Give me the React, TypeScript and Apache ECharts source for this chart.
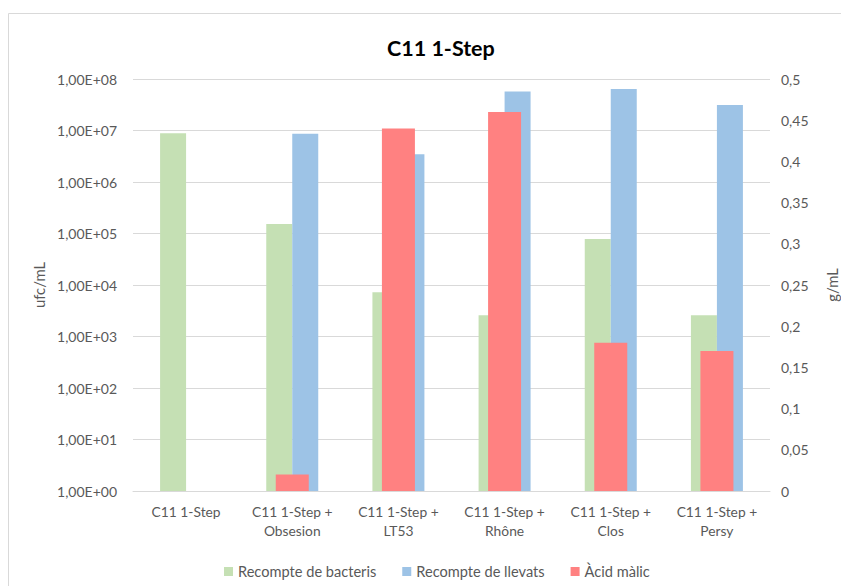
import React, { useEffect, useRef } from "react";
import * as echarts from "echarts";

const categories = [
  "C11 1-Step",
  "C11 1-Step +\nObsesion",
  "C11 1-Step +\nLT53",
  "C11 1-Step +\nRhône",
  "C11 1-Step +\nClos",
  "C11 1-Step +\nPersy",
];
const bacteria = [8.8e6, 1.53e5, 7.2e3, 2.6e3, 7.8e4, 2.6e3];
const yeasts = [null, 8.6e6, 3.45e6, 5.7e7, 6.4e7, 3.13e7];
const malic = [0, 0.02, 0.44, 0.46, 0.18, 0.17];

const FONT = "Lato, 'Noto Sans', sans-serif";
const LABEL = "#595959";
const GRID = "#d9d9d9";

export default function App() {
  const ref = useRef<HTMLDivElement>(null);
  useEffect(() => {
    if (!ref.current) return;
    const chart = echarts.init(ref.current, undefined, { renderer: "svg" });
    chart.setOption({
      animation: false,
      textStyle: { fontFamily: FONT },
      title: {
        text: "C11 1-Step",
        left: 374,
        top: 24,
        textStyle: { fontFamily: FONT, fontSize: 21.5, fontWeight: "bold", color: "#000" },
      },
      graphic: [
        {
          type: "rect",
          shape: { x: 0.5, y: 5.5, width: 1000, height: 1000 },
          style: { fill: "none", stroke: GRID, lineWidth: 1 },
          silent: true,
        },
      ],
      legend: {
        left: 211,
        top: 551,
        itemWidth: 9,
        itemHeight: 9,
        itemGap: 26,
        icon: "rect",
        textStyle: { fontFamily: FONT, fontSize: 14.6, color: LABEL },
        data: ["Recompte de bacteris", "Recompte de llevats", "Àcid màlic"],
      },
      grid: { left: 125, right: 79, top: 71, bottom: 95, containLabel: false },
      xAxis: [
        {
          type: "category",
          data: categories,
          axisLine: { show: true, lineStyle: { color: GRID } },
          axisTick: { show: false },
          axisLabel: {
            color: LABEL,
            fontFamily: FONT,
            fontSize: 13.8,
            lineHeight: 19,
            margin: 11,
            interval: 0,
          },
        },
        {
          type: "category",
          data: categories,
          show: false,
          gridIndex: 0,
        },
      ],
      yAxis: [
        {
          type: "log",
          logBase: 10,
          min: 1,
          max: 1e8,
          interval: 1,
          name: "ufc/mL",
          nameLocation: "middle",
          nameGap: 79,
          nameTextStyle: { color: LABEL, fontFamily: FONT, fontSize: 14.8 },
          axisLine: { show: false },
          axisTick: { show: false },
          splitLine: { show: true, lineStyle: { color: GRID } },
          axisLabel: {
            color: LABEL,
            fontFamily: FONT,
            fontSize: 14,
            margin: 16,
            formatter: (v: number) => {
              const e = Math.round(Math.log10(v));
              return "1,00E+" + (e < 10 ? "0" + e : String(e));
            },
          },
        },
        {
          type: "value",
          min: 0,
          max: 0.5,
          interval: 0.05,
          name: "g/mL",
          nameLocation: "middle",
          nameGap: 54,
          nameTextStyle: { color: LABEL, fontFamily: FONT, fontSize: 14.8 },
          axisLine: { show: false },
          axisTick: { show: false },
          splitLine: { show: false },
          axisLabel: {
            color: LABEL,
            fontFamily: FONT,
            fontSize: 14,
            margin: 11,
            formatter: (v: number) => String(+v.toFixed(2)).replace(".", ","),
          },
        },
      ],
      series: [
        {
          name: "Recompte de bacteris",
          type: "bar",
          xAxisIndex: 0,
          yAxisIndex: 0,
          data: bacteria,
          barWidth: 26,
          barGap: "0%",
          itemStyle: { color: "#c5e0b4" },
        },
        {
          name: "Recompte de llevats",
          type: "bar",
          xAxisIndex: 0,
          yAxisIndex: 0,
          data: yeasts,
          barWidth: 26,
          barGap: "0%",
          itemStyle: { color: "#9dc3e6" },
        },
        {
          name: "Àcid màlic",
          type: "bar",
          xAxisIndex: 1,
          yAxisIndex: 1,
          data: malic,
          barWidth: 33,
          itemStyle: { color: "#ff8181" },
        },
      ],
    });
    return () => chart.dispose();
  }, []);
  return <div ref={ref} style={{ width: 841, height: 578 }} />;
}
